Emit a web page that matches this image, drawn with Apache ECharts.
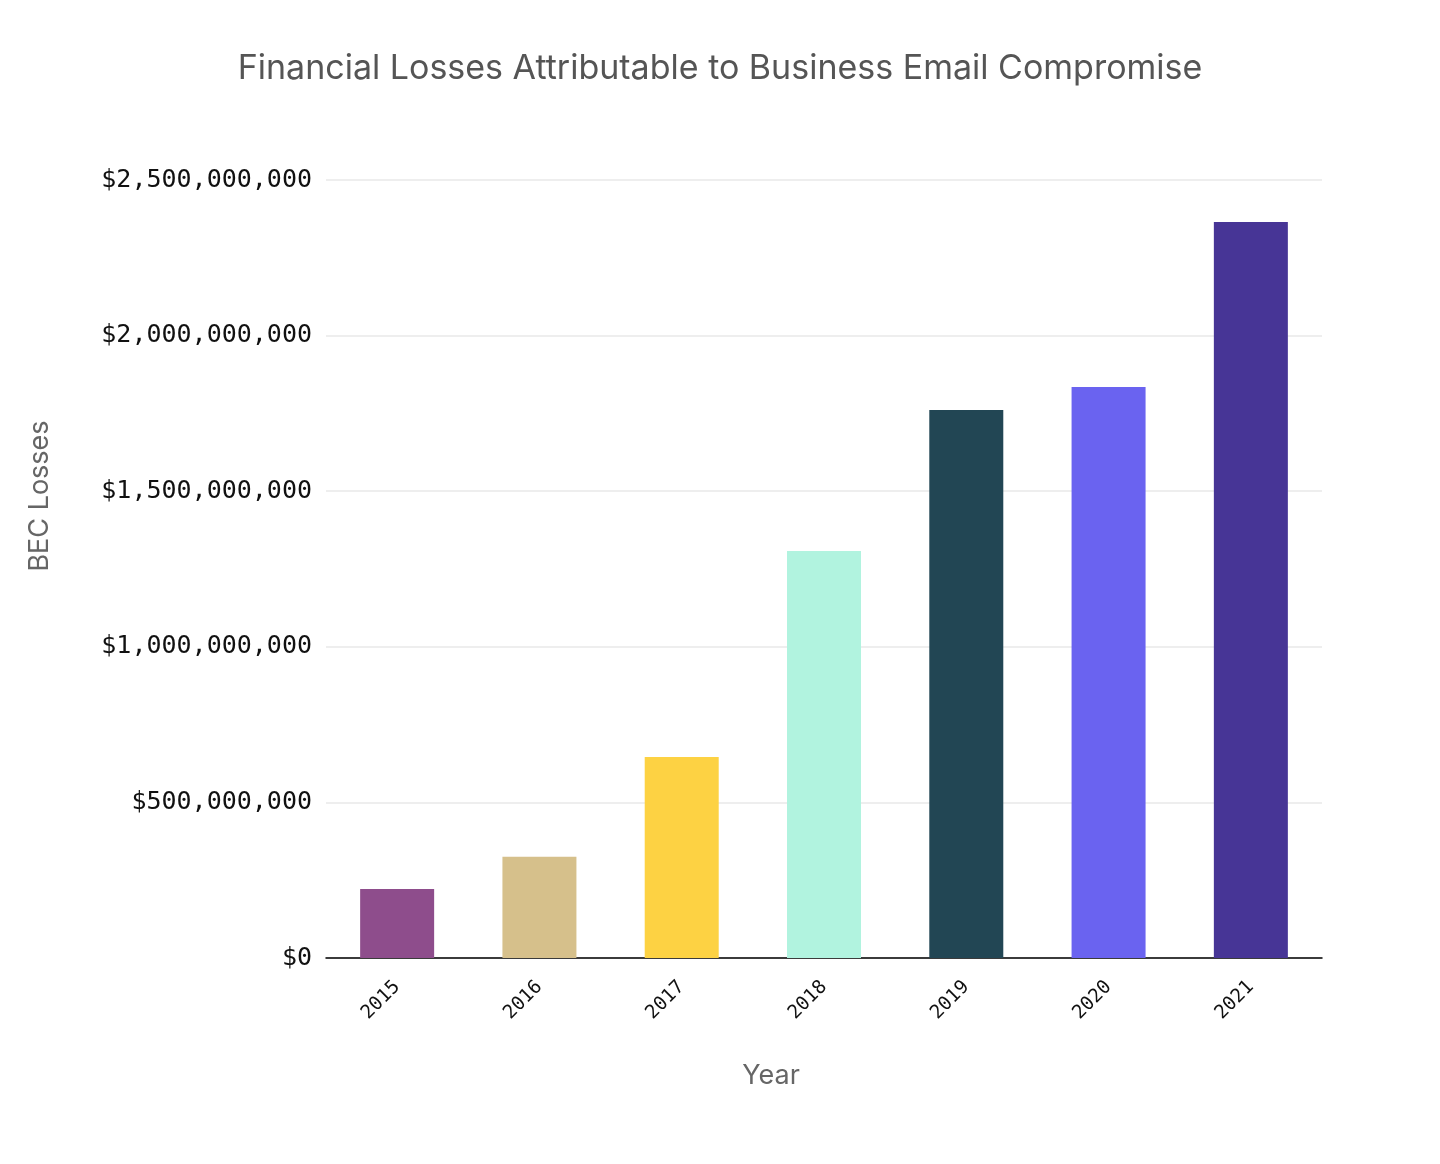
<!DOCTYPE html>
<html>
<head>
<meta charset="utf-8">
<script src="https://cdn.jsdelivr.net/npm/echarts@6/dist/echarts.min.js"></script>
<style>
  html, body { margin: 0; padding: 0; background: #fff; }
  #main { width: 1440px; height: 1164px; }
</style>
</head>
<body>
<div id="main"></div>
<script>
/*BEC losses by year*/
var years = ['2015', '2016', '2017', '2018', '2019', '2020', '2021'];
var losses = [222000000, 325000000, 646000000, 1308000000, 1761000000, 1835000000, 2365000000];
var barColors = ['#8e4d8c', '#d6c08b', '#fdd243', '#b1f3df', '#224654', '#6a63f0', '#473596'];
var yTicks = [0, 500000000, 1000000000, 1500000000, 2000000000, 2500000000];

(function () {
	var chart = echarts.init(document.getElementById('main'));

	//$2,500,000,000 style
	function money(v) {
		return '$' + String(v).replace(/\B(?=(\d{3})+(?!\d))/g, ',');
	}

	var option = {
		backgroundColor: '#fff',
		title: {
			text: 'Financial Losses Attributable to Business Email Compromise',
			left: 'center',
			top: 47,
			textStyle: {
				fontFamily: 'Inter',
				fontWeight: 'normal',
				fontSize: 34,
				color: '#555'
			}
		},
		grid: {
			left: 326,
			right: 118,
			top: 180,
			bottom: 206
		},
		xAxis: {
			type: 'category',
			data: years,
			name: 'Year',
			nameLocation: 'middle',
			nameGap: 104,
			nameTextStyle: {
				fontFamily: 'Inter',
				fontSize: 27,
				color: '#666',
				padding: [0, 106, 0, 0]
			},
			axisLine: { lineStyle: { color: '#000', width: 1.5 } },
			axisTick: { show: false },
			axisLabel: {
				rotate: 45,
				margin: 26,
				fontFamily: 'DejaVu Sans Mono',
				fontSize: 19,
				color: '#111'
			}
		},
		yAxis: {
			type: 'value',
			min: 0,
			max: yTicks[yTicks.length - 1],
			interval: yTicks[1] - yTicks[0],
			name: 'BEC Losses',
			nameLocation: 'middle',
			nameGap: 273,
			nameTextStyle: {
				fontFamily: 'Inter',
				fontSize: 27,
				color: '#666',
				padding: [0, 0, 0, 146]
			},
			axisLine: { show: false },
			axisTick: { show: false },
			axisLabel: {
				margin: 14,
				fontFamily: 'DejaVu Sans Mono',
				fontSize: 25,
				color: '#111',
				formatter: money
			},
			splitLine: { lineStyle: { color: '#eeeeee', width: 2 } }
		},
		series: [
			{
				name: 'BEC Losses',
				type: 'bar',
				barWidth: 74,
				data: losses.map(function (v, i) {
					return { value: v, itemStyle: { color: barColors[i] } };
				})
			}
		]
	};
	chart.setOption(option);
})();
</script>
</body>
</html>
